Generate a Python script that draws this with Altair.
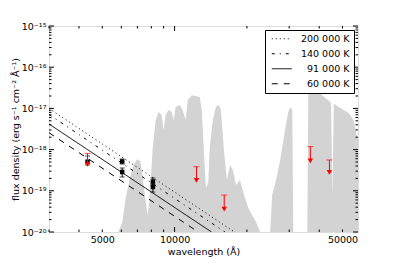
import altair as alt
import pandas as pd

# ---- grey background spectrum (envelope, wavelength in Angstrom, flux) ----
spec_lam = [5835, 6060, 6240, 6485, 6740, 7005, 7210, 7350, 7565, 7715, 7865,
            8095, 8335, 8575, 8825, 9000, 9175, 9445, 9720, 9910, 10100, 10500,
            10805, 11125, 11340, 11785, 12245, 12730, 12975, 13230, 13500, 13800,
            14015, 14430, 14850, 15290, 15585, 16040, 16515, 17000, 17495, 18010,
            18715, 19450, 20220, 21010, 21835, 22695, 25000, 25475, 26475, 27515,
            28595, 29720, 30300, 30890, 31185, 35695, 36035, 37450, 39685, 42450,
            44800, 45400, 46000, 49045, 53000, 55600, 57250, 58000]
spec_flux = [1e-20, 1.75e-20, 6e-20, 1.83e-19, 4.23e-19, 5.9e-19, 5.0e-19, 2.4e-19,
             6e-20, 2.6e-20, 6e-20, 9.8e-19, 5.2e-18, 8.2e-18, 6.9e-18, 3.0e-18,
             6.9e-18, 9.1e-18, 8.2e-18, 5.2e-18, 1.08e-17, 1.21e-17, 9.1e-18,
             5.2e-18, 1.6e-17, 2.1e-17, 2.0e-17, 1.9e-17, 9.1e-18, 9.8e-19, 1.2e-19,
             1.5e-19, 1.2e-18, 5.2e-18, 1.08e-17, 1.21e-17, 9.1e-18, 9.8e-19, 1.83e-19,
             4.2e-19, 3.2e-19, 1.38e-19, 1.83e-19, 7.9e-20, 4e-20, 2.6e-20,
             1.75e-20, 1e-20, 1e-20, 7.9e-20, 1.83e-19, 5.6e-19, 2.26e-18, 8.2e-18,
             1.08e-17, 9.1e-18, 1e-20, 1e-20, 2.8e-17, 3.3e-17, 2.5e-17, 1.79e-17,
             1.4e-17, 8e-20, 1.3e-17, 1.02e-17, 7.7e-18, 5.2e-18, 2.26e-18, 1.8e-18]

# ---- model lines (straight in log-log), start and end points ----
temps = ["200 000 K", "140 000 K", "\u200791 000 K", "\u200760 000 K"]
bb_lam_start = [3000, 3000, 3000, 3000]
bb_flux_start = [9.95e-18, 7.1e-18, 4.18e-18, 2.57e-18]
bb_lam_end = [17750, 16200, 14250, 12540]
bb_flux_end = [1e-20, 1e-20, 1e-20, 1e-20]
dashes = [[1, 3], [3, 5, 1, 5], [1, 0], [6, 6]]

# ---- detections ----
det_lam = [4340, 6050, 6050, 8120, 8120]
det_flux = [5.08e-19, 5.14e-19, 2.86e-19, 1.68e-19, 1.24e-19]
det_hi = [7.0e-19, 5.9e-19, 3.58e-19, 2.05e-19, 1.46e-19]
det_lo = [4.23e-19, 4.47e-19, 2.16e-19, 1.38e-19, 9.3e-20]

# ---- upper limits ----
lim_lam = [4340, 12330, 16090, 36740, 44100]
lim_top = [8.1e-19, 3.85e-19, 7.9e-20, 1.18e-18, 5.6e-19]
lim_arrow = [4.4e-19, 1.8e-19, 3.6e-20, 5.3e-19, 2.8e-19]

# ---- axes ----
x_domain = [3000, 58000]
y_domain = [1e-20, 1e-15]
x_labels = [5000, 10000, 50000]
x_major = [10000]
x_minor = [3000, 4000, 5000, 6000, 7000, 8000, 9000, 20000, 30000, 40000, 50000]
y_major = [1e-20, 1e-19, 1e-18, 1e-17, 1e-16, 1e-15]
y_minor = [k * 10.0 ** e for e in range(-20, -15) for k in range(2, 10)]
sup = {"-15": "10⁻¹⁵", "-16": "10⁻¹⁶", "-17": "10⁻¹⁷", "-18": "10⁻¹⁸",
       "-19": "10⁻¹⁹", "-20": "10⁻²⁰"}

W, H = 309, 206
FONT = "DejaVu Sans"

xs = alt.Scale(type="log", domain=x_domain, nice=False)
ys = alt.Scale(type="log", domain=y_domain, nice=False)

ylabel_expr = " : ".join(
    f"round(log(datum.value)/LN10) == {k} ? '{v}'" for k, v in sup.items()
) + " : ''"

spec_df = pd.DataFrame({"lam": spec_lam, "flux": spec_flux})
bb_rows = []
for t, l0, f0, l1, f1 in zip(temps, bb_lam_start, bb_flux_start, bb_lam_end, bb_flux_end):
    bb_rows.append({"T": t, "lam": l0, "flux": f0})
    bb_rows.append({"T": t, "lam": l1, "flux": f1})
bb_df = pd.DataFrame(bb_rows)
det_df = pd.DataFrame({"lam": det_lam, "flux": det_flux, "hi": det_hi, "lo": det_lo})
lim_df = pd.DataFrame({"lam": lim_lam, "top": lim_top, "arrow": lim_arrow})

xaxis = alt.Axis(values=x_labels, format="d", ticks=False, domain=False, grid=False,
                 title="wavelength (Å)", labelFont=FONT, labelFontSize=9.5,
                 labelColor="black", titleFont=FONT, titleFontSize=9.5,
                 titleFontWeight="normal", titleColor="black", labelPadding=2,
                 titlePadding=3, labelFlush=False)
yaxis = alt.Axis(values=y_major, labelExpr=ylabel_expr, ticks=False, domain=False,
                 grid=False, title="flux density (erg s⁻¹ cm⁻² Å⁻¹)",
                 labelFont=FONT, labelFontSize=9.5, labelColor="black",
                 titleFont=FONT, titleFontSize=9.5, titleFontWeight="normal",
                 titleColor="black", labelPadding=3, titlePadding=1, labelFlush=False)

area = alt.Chart(spec_df).mark_area(color="#d3d3d3", opacity=1, interpolate="linear").encode(
    x=alt.X("lam:Q", scale=xs, axis=xaxis),
    y=alt.Y("flux:Q", scale=ys, axis=yaxis),
    y2=alt.datum(1e-20),
)

lines = alt.Chart(bb_df).mark_line(color="black", strokeWidth=1, clip=True).encode(
    x=alt.X("lam:Q", scale=xs),
    y=alt.Y("flux:Q", scale=ys),
    strokeDash=alt.StrokeDash(
        "T:N",
        scale=alt.Scale(domain=temps, range=dashes),
        legend=alt.Legend(
            orient="none", legendX=216, legendY=4, title=None,
            symbolType="M-0.5,0H4.5", symbolStrokeColor="black", symbolStrokeWidth=1,
            symbolFillColor="transparent",
            symbolSize=64, labelFont=FONT, labelFontSize=9.5, labelColor="black",
            labelAlign="right", labelOffset=71, labelLimit=200,
            fillColor="white", strokeColor="black", padding=4, rowPadding=4,
        ),
    ),
    detail="T:N",
)

err = alt.Chart(det_df).mark_rule(color="black", strokeWidth=1).encode(
    x=alt.X("lam:Q", scale=xs), y=alt.Y("lo:Q", scale=ys), y2="hi:Q")
cap_hi = alt.Chart(det_df).mark_tick(color="black", orient="horizontal", size=5, thickness=1).encode(
    x=alt.X("lam:Q", scale=xs), y=alt.Y("hi:Q", scale=ys))
cap_lo = alt.Chart(det_df).mark_tick(color="black", orient="horizontal", size=5, thickness=1).encode(
    x=alt.X("lam:Q", scale=xs), y=alt.Y("lo:Q", scale=ys))
pts = alt.Chart(det_df).mark_point(shape="square", filled=True, color="black", size=20, opacity=1).encode(
    x=alt.X("lam:Q", scale=xs), y=alt.Y("flux:Q", scale=ys))

lim_rule = alt.Chart(lim_df).mark_rule(color="red", strokeWidth=1).encode(
    x=alt.X("lam:Q", scale=xs), y=alt.Y("arrow:Q", scale=ys), y2="top:Q")
lim_cap = alt.Chart(lim_df).mark_tick(color="red", orient="horizontal", size=6, thickness=1).encode(
    x=alt.X("lam:Q", scale=xs), y=alt.Y("top:Q", scale=ys))
lim_head = alt.Chart(lim_df).mark_point(shape="triangle-down", filled=True, color="red", size=30, opacity=1).encode(
    x=alt.X("lam:Q", scale=xs), y=alt.Y("arrow:Q", scale=ys))

# inward ticks on all four sides
xt = pd.DataFrame({"v": x_major + x_minor, "len": [5] * len(x_major) + [2.5] * len(x_minor)})
yt = pd.DataFrame({"v": y_major + y_minor, "len": [5] * len(y_major) + [2.5] * len(y_minor)})

def xticks(side):
    layers = []
    for ln, sub in xt.groupby("len"):
        if side == "bottom":
            yv, y2v = H, H - ln
        else:
            yv, y2v = 0, ln
        layers.append(alt.Chart(sub).mark_rule(color="black", strokeWidth=1).encode(
            x=alt.X("v:Q", scale=xs), y=alt.value(yv), y2=alt.value(y2v)))
    return layers

def yticks(side):
    layers = []
    for ln, sub in yt.groupby("len"):
        if side == "left":
            xv, x2v = 0, ln
        else:
            xv, x2v = W, W - ln
        layers.append(alt.Chart(sub).mark_rule(color="black", strokeWidth=1).encode(
            y=alt.Y("v:Q", scale=ys), x=alt.value(xv), x2=alt.value(x2v)))
    return layers

chart = alt.layer(
    area, lines, err, cap_hi, cap_lo, pts, lim_rule, lim_cap, lim_head,
    *xticks("bottom"), *xticks("top"), *yticks("left"), *yticks("right"),
).properties(
    width=W, height=H,
    autosize=alt.AutoSizeParams(type="none"),
    padding={"left": 41, "top": 18, "right": 30, "bottom": 32},
).configure_view(
    stroke="black", strokeWidth=1
).configure(background="white")

chart.save("out.html", embed_options={"renderer": "svg", "actions": False})
